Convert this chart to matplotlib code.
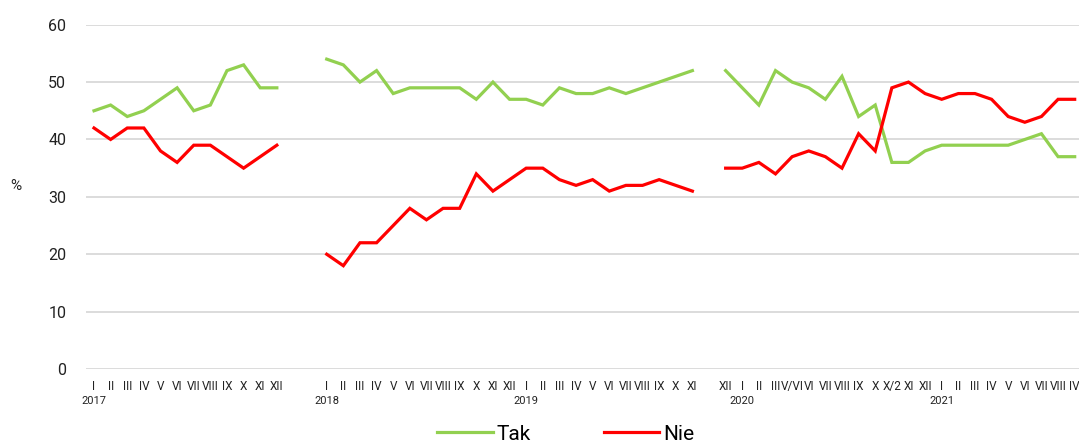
import numpy as np
import matplotlib
matplotlib.use("Agg")
import matplotlib.pyplot as plt
from matplotlib.transforms import blended_transform_factory

plt.rcParams['font.family'] = ['Roboto', 'DejaVu Sans']

# ---- data ----
labels_2017 = ["I", "II", "III", "IV", "V", "VI", "VII", "VIII", "IX", "X", "XI", "XII"]
labels_2018_19 = ["I", "II", "III", "IV", "V", "VI", "VII", "VIII", "IX", "X", "XI", "XII",
                  "I", "II", "III", "IV", "V", "VI", "VII", "VIII", "IX", "X", "XI"]
labels_2020_21 = ["XII", "I", "II", "III", "V/VI", "VI", "VII", "VIII", "IX", "X", "X/2", "XI", "XII",
                  "I", "II", "III", "IV", "V", "VI", "VII", "VIII", "IV"]

tak_2017 = [45, 46, 44, 45, 47, 49, 45, 46, 52, 53, 49, 49]
nie_2017 = [42, 40, 42, 42, 38, 36, 39, 39, 37, 35, 37, 39]
tak_2018_19 = [54, 53, 50, 52, 48, 49, 49, 49, 49, 47, 50, 47,
               47, 46, 49, 48, 48, 49, 48, 49, 50, 51, 52]
nie_2018_19 = [20, 18, 22, 22, 25, 28, 26, 28, 28, 34, 31, 33,
               35, 35, 33, 32, 33, 31, 32, 32, 33, 32, 31]
tak_2020_21 = [52, 49, 46, 52, 50, 49, 47, 51, 44, 46, 36, 36, 38,
               39, 39, 39, 39, 39, 40, 41, 37, 37]
nie_2020_21 = [35, 35, 36, 34, 37, 38, 37, 35, 41, 38, 49, 50, 48,
               47, 48, 48, 47, 44, 43, 44, 47, 47]

gap1 = 2  # empty categories between 2017 and 2018
gap2 = 1  # empty category before 2020 block

year_labels = ["2017", "2018", "2019", "2020", "2021"]

# ---- build category axis ----
nan = [np.nan]
labels = labels_2017 + [""] * gap1 + labels_2018_19 + [""] * gap2 + labels_2020_21
tak = tak_2017 + nan * gap1 + tak_2018_19 + nan * gap2 + tak_2020_21
nie = nie_2017 + nan * gap1 + nie_2018_19 + nan * gap2 + nie_2020_21
x = np.arange(len(labels))

start_2018 = len(labels_2017) + gap1
start_2020 = start_2018 + len(labels_2018_19) + gap2
year_pos = [0, start_2018, start_2018 + 12, start_2020 + 1, start_2020 + 13]

green = "#92D050"
red = "#FF0000"

fig = plt.figure(figsize=(10.79, 4.44), dpi=100)
ax = fig.add_axes([85.7 / 1079, 1 - 369 / 444, (1083 - 85.7) / 1079, (369 - 24.7) / 444])

ax.plot(x, tak, color=green, lw=2.3, label="Tak", solid_joinstyle="miter")
ax.plot(x, nie, color=red, lw=2.3, label="Nie", solid_joinstyle="miter")

ax.set_xlim(-0.5, len(labels) - 0.5)
ax.set_ylim(0, 60)
ax.set_yticks(range(0, 61, 10))
ax.grid(axis="y", color="#D9D9D9", lw=1.3)
ax.set_axisbelow(True)
for s in ax.spines.values():
    s.set_visible(False)

ax.set_xticks(x)
ax.set_xticklabels(labels, fontsize=8.5, color="#222222")
ax.tick_params(axis="x", length=0, pad=8)
ax.tick_params(axis="y", length=0, pad=14, labelsize=11.5, labelcolor="#222222")

trans = blended_transform_factory(ax.transData, fig.transFigure)
for yl, p in zip(year_labels, year_pos):
    ax.text(p, 1 - 401 / 444, yl, transform=trans, ha="center", va="center",
            fontsize=8, color="#222222")

fig.text(16 / 1079, 1 - 186 / 444, "%", ha="center", va="center", fontsize=11, color="#222222")

fig.legend(loc="center", bbox_to_anchor=(566 / 1079, 1 - 434 / 444), ncol=2, frameon=False,
           fontsize=15, handlelength=2.65, handletextpad=0.2, columnspacing=3.5)

fig.savefig("out.png", dpi=100)
